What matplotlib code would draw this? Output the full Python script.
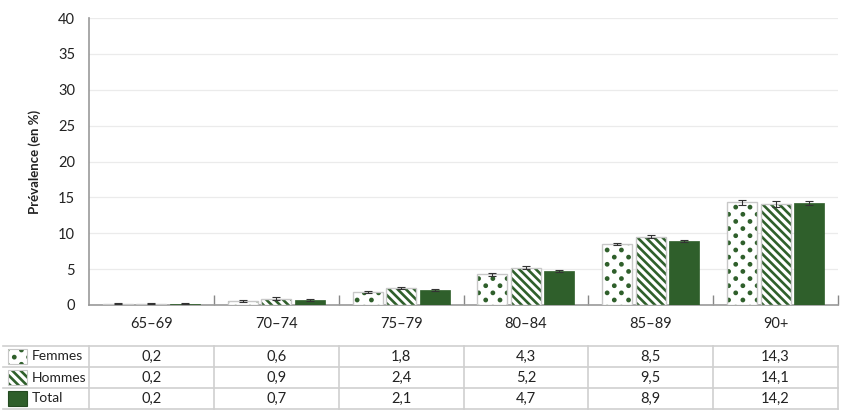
import matplotlib
matplotlib.use("Agg")
import matplotlib.pyplot as plt
import matplotlib.hatch as mhatch
from matplotlib.path import Path
from matplotlib.patches import Rectangle
import numpy as np


class Dots(mhatch.HatchPatternBase):
    """Filled dots: rows half as far apart as dots in a row, staggered."""
    filled = True

    def __init__(self, hatch, density):
        n = hatch.count('.')
        circ = Path.unit_circle()
        self.shape_vertices = circ.vertices
        self.shape_codes = circ.codes
        self.ncol = 7 * n
        self.nrow = 14 * n
        if n == 0:
            self.num_shapes = 0
        else:
            self.num_shapes = ((self.nrow // 2 + 1) * (self.ncol + 1)
                               + (self.nrow // 2) * self.ncol)
        self.num_vertices = self.num_shapes * len(self.shape_vertices)

    def set_vertices_and_codes(self, vertices, codes):
        rad = 0.0105
        sv = self.shape_vertices * rad
        vparts, cparts = [], []
        dx = 1.0 / self.ncol
        for row in range(self.nrow + 1):
            if row % 2 == 0:
                cols = np.linspace(0, 1, self.ncol + 1)
            else:
                cols = np.linspace(dx / 2, 1 - dx / 2, self.ncol)
            yp = row / self.nrow
            for xp in cols:
                vparts.append(sv + [xp, yp])
                cparts.append(self.shape_codes)
        np.concatenate(vparts, out=vertices)
        np.concatenate(cparts, out=codes)


mhatch._hatch_types = [Dots if t is mhatch.SmallFilledCircles else t
                       for t in mhatch._hatch_types]

categories = ["65–69", "70–74", "75–79", "80–84", "85–89", "90+"]
series_names = ["Femmes", "Hommes", "Total"]
femmes = [0.2, 0.6, 1.8, 4.3, 8.5, 14.3]
hommes = [0.2, 0.9, 2.4, 5.2, 9.5, 14.1]
total = [0.2, 0.7, 2.1, 4.7, 8.9, 14.2]
femmes_err = [0.05, 0.15, 0.15, 0.2, 0.2, 0.35]
hommes_err = [0.05, 0.15, 0.15, 0.25, 0.2, 0.4]
total_err = [0.05, 0.1, 0.1, 0.15, 0.15, 0.25]
yticks = [0, 5, 10, 15, 20, 25, 30, 35, 40]

GREEN = "#2f5f2b"
EDGE = "#c8c8c8"
plt.rcParams['font.family'] = ['Lato', 'DejaVu Sans']
plt.rcParams['hatch.linewidth'] = 1.9

W, H = 848, 418
fig = plt.figure(figsize=(W / 100, H / 100), dpi=100)
ax = fig.add_axes([89 / W, 113 / H, (838 - 89) / W, (305 - 18) / H])

x = np.arange(len(categories))
off = 0.268
bw = 0.24
styles = [
    dict(hatch=".", face="white"),
    dict(hatch="\\\\\\\\", face="white"),
    dict(hatch=None, face=GREEN),
]
vals = [femmes, hommes, total]
errs = [femmes_err, hommes_err, total_err]
for k in range(3):
    pos = x + (k - 1) * off
    st = styles[k]
    if st["hatch"]:
        ax.bar(pos, vals[k], bw, color=st["face"], edgecolor=GREEN,
               hatch=st["hatch"], linewidth=0, zorder=3)
        ax.bar(pos, vals[k], bw, fill=False, edgecolor=EDGE,
               linewidth=1.0, zorder=4)
    else:
        ax.bar(pos, vals[k], bw, color=GREEN, edgecolor=GREEN,
               linewidth=0.5, zorder=3)
    ax.errorbar(pos, vals[k], yerr=errs[k], fmt="none", ecolor="#333333",
                elinewidth=0.8, capsize=3, capthick=0.8, zorder=5)

ax.set_xlim(-0.5, 5.5)
ax.set_ylim(0, 40)
ax.set_yticks(yticks)
ax.set_yticklabels([str(t) for t in yticks], fontsize=10.5, color="#222222")
ax.yaxis.grid(True, color="#ebebeb", linewidth=0.9, zorder=0)
ax.set_axisbelow(True)
ax.tick_params(axis="y", length=0, pad=10)
ax.set_xticks(np.arange(0.5, 6, 1.0))
ax.set_xticks(x, minor=True)
ax.set_xticklabels([""] * 6)
ax.set_xticklabels(categories, minor=True, fontsize=10.5, color="#222222")
ax.tick_params(axis="x", which="major", direction="in", length=7,
               color="#888888", width=1)
ax.tick_params(axis="x", which="minor", length=0, pad=9)
for s in ["top", "right"]:
    ax.spines[s].set_visible(False)
ax.spines["left"].set_color("#999999")
ax.spines["bottom"].set_color("#999999")
ax.spines["left"].set_linewidth(1.2)
ax.spines["bottom"].set_linewidth(1.2)
ax.set_ylabel("Prévalence (en %)", fontsize=9.5, fontweight="bold",
              color="#222222", labelpad=12)

# table
tax = fig.add_axes([3 / W, 9 / H, 835 / W, 63 / H])
left = -0.5 - 86 / 124.8
tax.set_xlim(left, 5.5)
tax.set_ylim(0, 3)
tax.axis("off")
LINE = "#cfcfcf"
for yy in range(4):
    tax.plot([left, 5.5], [yy, yy], color=LINE, lw=1.2, clip_on=False)
for xx in np.arange(-0.5, 5.6, 1.0):
    tax.plot([xx, xx], [0, 3], color=LINE, lw=1.2, clip_on=False)

px = 1 / 124.8
for r in range(3):
    yc = 2.5 - r
    st = styles[r]
    if st["hatch"]:
        tax.add_patch(Rectangle((left + 5 * px, yc - 0.38), 19 * px, 0.76,
                                facecolor="white", edgecolor=GREEN,
                                hatch=st["hatch"], linewidth=0))
        tax.add_patch(Rectangle((left + 5 * px, yc - 0.38), 19 * px, 0.76,
                                fill=False, edgecolor=EDGE, linewidth=0.8))
    else:
        tax.add_patch(Rectangle((left + 5 * px, yc - 0.38), 19 * px, 0.76,
                                facecolor=GREEN, edgecolor="#244a21",
                                linewidth=0.8))
    tax.text(left + 29 * px, yc, series_names[r], ha="left", va="center",
             fontsize=10, color="#222222")
    for c in range(6):
        tax.text(c, yc, f"{vals[r][c]:.1f}".replace(".", ","), ha="center",
                 va="center", fontsize=10.5, color="#222222")

fig.savefig("out.png", dpi=100)
